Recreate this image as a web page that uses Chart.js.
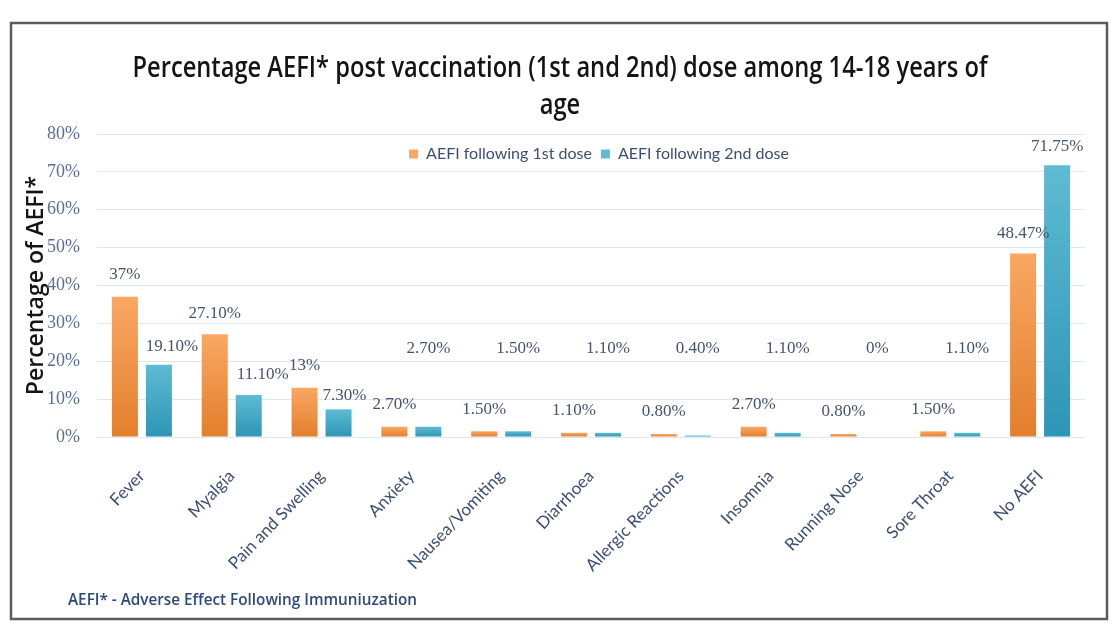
<!DOCTYPE html>
<html><head><meta charset="utf-8">
<script src="https://cdn.jsdelivr.net/npm/chart.js@4.4.1/dist/chart.umd.min.js"></script>
<style>html,body{margin:0;padding:0;background:#fff;overflow:hidden}#wrap{width:1116px;height:637px;position:relative}</style>
</head><body><div id="wrap"><canvas id="c" width="1116" height="637"></canvas></div>
<script>
const categories = ['Fever','Myalgia','Pain and Swelling','Anxiety','Nausea/Vomiting','Diarrhoea','Allergic Reactions','Insomnia','Running Nose','Sore Throat','No AEFI'];
const firstDose = [37, 27.1, 13, 2.7, 1.5, 1.1, 0.8, 2.7, 0.8, 1.5, 48.47];
const secondDose = [19.1, 11.1, 7.3, 2.7, 1.5, 1.1, 0.4, 1.1, 0, 1.1, 71.75];
const firstDoseLabels = ['37%','27.10%','13%','2.70%','1.50%','1.10%','0.80%','2.70%','0.80%','1.50%','48.47%'];
const secondDoseLabels = ['19.10%','11.10%','7.30%','2.70%','1.50%','1.10%','0.40%','1.10%','0%','1.10%','71.75%'];
const seriesNames = ['AEFI following 1st dose','AEFI following 2nd dose'];
const yTickValues = [0,10,20,30,40,50,60,70,80];
const titleLines = ['Percentage AEFI* post vaccination (1st and 2nd) dose among 14-18 years of','age'];
const yAxisTitle = 'Percentage of AEFI*';
const footnote = 'AEFI* - Adverse Effect Following Immuniuzation';

const NARROW = "Lato, sans-serif";
const SERIF = "'Liberation Serif', serif";

function barGrad(top, bottom){
  return (c) => {
    const chart = c.chart; const ys = chart.scales.y;
    if (!ys || c.raw === undefined) return bottom;
    const y0 = ys.getPixelForValue(c.raw), y1 = ys.getPixelForValue(0);
    if (!(y1 - y0 > 1)) return bottom;
    const g = chart.ctx.createLinearGradient(0, y0, 0, y1);
    g.addColorStop(0, top); g.addColorStop(1, bottom);
    return g;
  };
}

const frameAndText = {
  id: 'frameAndText',
  beforeDraw(chart){
    const ctx = chart.ctx; ctx.save();
    ctx.fillStyle = '#fff'; ctx.fillRect(0,0,chart.width,chart.height);
    ctx.strokeStyle = '#5c5c5c'; ctx.lineWidth = 2.5;
    ctx.strokeRect(11, 23, 1096, 596);
    ctx.restore();
  },
  afterDraw(chart){
    const ctx = chart.ctx;
    ctx.save();
    ctx.fillStyle = '#141414';
    ctx.font = '600 28px "Open Sans"';
    ctx.textBaseline = 'middle'; ctx.textAlign = 'center';
    const w = ctx.measureText(titleLines[0]).width;
    const s = 855 / w;
    [[titleLines[0], 69], [titleLines[1], 106]].forEach(([t, y]) => {
      ctx.save(); ctx.translate(560, y); ctx.scale(s, 1); ctx.fillText(t, 0, 0); ctx.restore();
    });
    ctx.fillStyle = '#2d4a7c';
    ctx.font = '600 17px "Open Sans"';
    ctx.textAlign = 'left';
    const fw = ctx.measureText(footnote).width;
    ctx.save(); ctx.translate(68, 600); ctx.scale(349 / fw, 1); ctx.fillText(footnote, 0, 0); ctx.restore();
    ctx.restore();
  }
};

const valueLabels = {
  id: 'valueLabels',
  afterDatasetsDraw(chart, args, opts){
    const ctx = chart.ctx; const ys = chart.scales.y;
    ctx.save();
    ctx.font = '17px ' + SERIF; ctx.fillStyle = '#46536f';
    ctx.textAlign = 'center'; ctx.textBaseline = 'middle';
    chart.data.datasets.forEach((ds, di) => {
      const meta = chart.getDatasetMeta(di);
      meta.data.forEach((bar, i) => {
        const text = opts.texts[di][i];
        const x = bar.x + opts.dx[di][i];
        const y = opts.fixed[di][i] ? ys.getPixelForValue(opts.fixedLevel) : bar.y - opts.lift[di][i];
        ctx.fillText(text, x, y);
      });
    });
    ctx.restore();
  }
};

const placeLegend = {
  id: 'placeLegend',
  afterLayout(chart){
    const lg = chart.legend; if (!lg) return;
    const h = lg.bottom - lg.top;
    const a = chart.chartArea;
    lg.top = 137; lg.bottom = 137 + h; lg.height = h;
    lg.left = a.left + 8; lg.right = a.right + 8; lg.width = a.right - a.left;
  }
};

const ctx = document.getElementById('c').getContext('2d');
new Chart(ctx, {
  type: 'bar',
  data: {
    labels: categories,
    datasets: [
      { label: seriesNames[0], data: firstDose, backgroundColor: barGrad('#f9a762', '#e27f2c'), borderWidth: 0,
        categoryPercentage: 0.757, barPercentage: 0.765 },
      { label: seriesNames[1], data: secondDose, backgroundColor: barGrad('#5ebbd3', '#2d95b5'), borderWidth: 0,
        categoryPercentage: 0.757, barPercentage: 0.765 }
    ]
  },
  options: {
    responsive: false, animation: false,
    layout: { padding: { left: 20, right: 31, top: 99, bottom: 40 } },
    plugins: {
      tooltip: { enabled: false },
      title: { display: false },
      legend: {
        position: 'top', align: 'center',
        labels: { boxWidth: 9, boxHeight: 9, padding: 9, color: '#3b4f75', font: { family: NARROW, size: 16 } }
      },
      valueLabels: {
        texts: [firstDoseLabels, secondDoseLabels],
        dx: [[0,0,0,0,0,0,0,0,0,0,0],[13,14,6,0,0,0,0,0,0,0,0]],
        lift: [[22,21,22,22,22,22,22,22,22,22,20],[18,20,14,0,0,0,0,0,0,0,19]],
        fixed: [[0,0,0,0,0,0,0,0,0,0,0],[0,0,0,1,1,1,1,1,1,1,0]],
        fixedLevel: 23.4
      }
    },
    scales: {
      x: {
        grid: { display: false }, border: { display: false },
        ticks: { autoSkip: false, minRotation: 46, maxRotation: 46, padding: 21, color: '#3b4f75', font: { family: NARROW, size: 17 } },
        afterFit: (s) => { s.height = 160; }
      },
      y: {
        min: 0, max: 80,
        afterBuildTicks: (s) => { s.ticks = yTickValues.map(v => ({ value: v })); },
        grid: { color: '#dfe5ee', lineWidth: 1, drawTicks: false }, border: { display: false },
        ticks: { padding: 17, color: '#5a6e95', font: { family: SERIF, size: 18 }, callback: (v) => v + '%' },
        title: { display: true, text: yAxisTitle, color: '#141414', font: { family: 'Open Sans', size: 23, weight: '600' }, padding: { top: 3, bottom: 0 } },
        afterFit: (s) => { s.width = 77; }
      }
    }
  },
  plugins: [frameAndText, valueLabels, placeLegend]
});
</script>
</body></html>
